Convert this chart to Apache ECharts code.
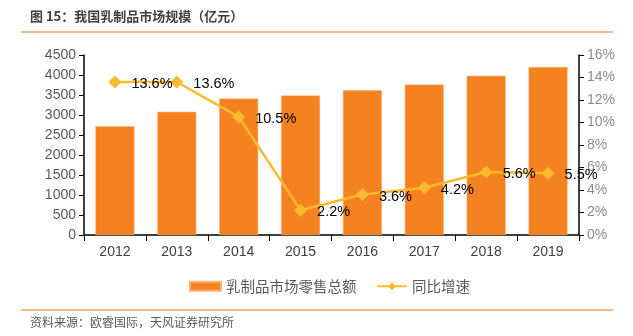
<!DOCTYPE html>
<html><head><meta charset="utf-8">
<script src="https://cdn.jsdelivr.net/npm/echarts@6/dist/echarts.min.js"></script>
<style>html,body{margin:0;padding:0;background:#fff}#c{width:633px;height:336px}</style>
</head><body><div id="c"></div>
<script>
const categories = ['2012','2013','2014','2015','2016','2017','2018','2019'];
const retailTotal = [2720, 3080, 3410, 3490, 3620, 3760, 3980, 4200];
const growthRate = [13.6, 13.6, 10.5, 2.2, 3.6, 4.2, 5.6, 5.5];
const leftTicks = { min: 0, max: 4500, interval: 500 };
const rightTicks = { min: 0, max: 16, interval: 2 };
const titleText = '图 15：我国乳制品市场规模（亿元）';
const sourceText = '资料来源：欧睿国际，天风证券研究所';
const seriesNames = ['乳制品市场零售总额', '同比增速'];

const font = '"Liberation Sans", Arial, "Noto Sans CJK SC", sans-serif';
const cjk = '"Noto Sans CJK SC", sans-serif';
const chart = echarts.init(document.getElementById('c'), null, {renderer:'canvas'});
chart.setOption({
  animation: false,
  backgroundColor: '#fff',
  graphic: [
    {type:'text', left: 30, top: 10, style:{text: titleText, font:'bold 13px ' + cjk, fill:'#404040'}},
    {type:'line', shape:{x1:21, y1:32, x2:613, y2:32}, style:{stroke:'#F5A05A', lineWidth:1.5}},
    {type:'line', shape:{x1:21, y1:310, x2:613, y2:310}, style:{stroke:'#F5A05A', lineWidth:1.5}},
    {type:'text', left: 30, top: 316, style:{text: sourceText, font:'12px ' + cjk, fill:'#595959'}}
  ],
  legend: [
    {top: 274, left: 184, itemWidth: 31, itemHeight: 9,
     textStyle: {fontFamily: cjk, fontSize: 14.5, color: '#595959'},
     data: [{name: seriesNames[0], icon:'rect'}]},
    {top: 274, left: 371, itemWidth: 30, itemHeight: 10, itemGap: 5,
     textStyle: {fontFamily: cjk, fontSize: 14.5, color: '#595959'},
     data: [{name: seriesNames[1]}]}
  ],
  grid: {left: 84, right: 54, top: 55, bottom: 101},
  xAxis: {
    type: 'category', data: categories,
    axisLine: {lineStyle: {color: '#000', width: 1.5}},
    axisTick: {show: true, length: 6, lineStyle: {color:'#000'}},
    axisLabel: {fontFamily: font, fontSize: 14, color: '#404040', margin: 10}
  },
  yAxis: [
    {type:'value', min: leftTicks.min, max: leftTicks.max, interval: leftTicks.interval,
     splitLine:{show:false},
     axisLine:{show:true, lineStyle:{color:'#000', width:1.5}},
     axisTick:{show:true, length:5, lineStyle:{color:'#000'}},
     axisLabel:{fontFamily: font, fontSize: 14, color:'#595959', margin: 8, formatter: v => String(v)}},
    {type:'value', min: rightTicks.min, max: rightTicks.max, interval: rightTicks.interval,
     splitLine:{show:false},
     axisLine:{show:true, lineStyle:{color:'#000', width:1.5}},
     axisTick:{show:true, length:5, lineStyle:{color:'#000'}},
     axisLabel:{fontFamily: font, fontSize: 14, color:'#8c8c8c', margin: 8, formatter: '{value}%'}}
  ],
  series: [
    {name: seriesNames[0], type:'bar', data: retailTotal, barWidth: '63%',
     itemStyle:{color:'#F58220', borderColor:'#F9B27A', borderWidth:0.5}},
    {name: seriesNames[1], type:'line', yAxisIndex:1, data: growthRate,
     symbol:'diamond', symbolSize: 13,
     lineStyle:{color:'#FCBA2C', width: 2.5},
     itemStyle:{color:'#FCBA2C'},
     label:{show:true, position:'right', distance: 10, offset:[0,2],
            fontFamily: font, fontSize: 14.5, color:'#000',
            formatter: p => p.value.toFixed(1) + '%'}}
  ]
});
</script></body></html>
